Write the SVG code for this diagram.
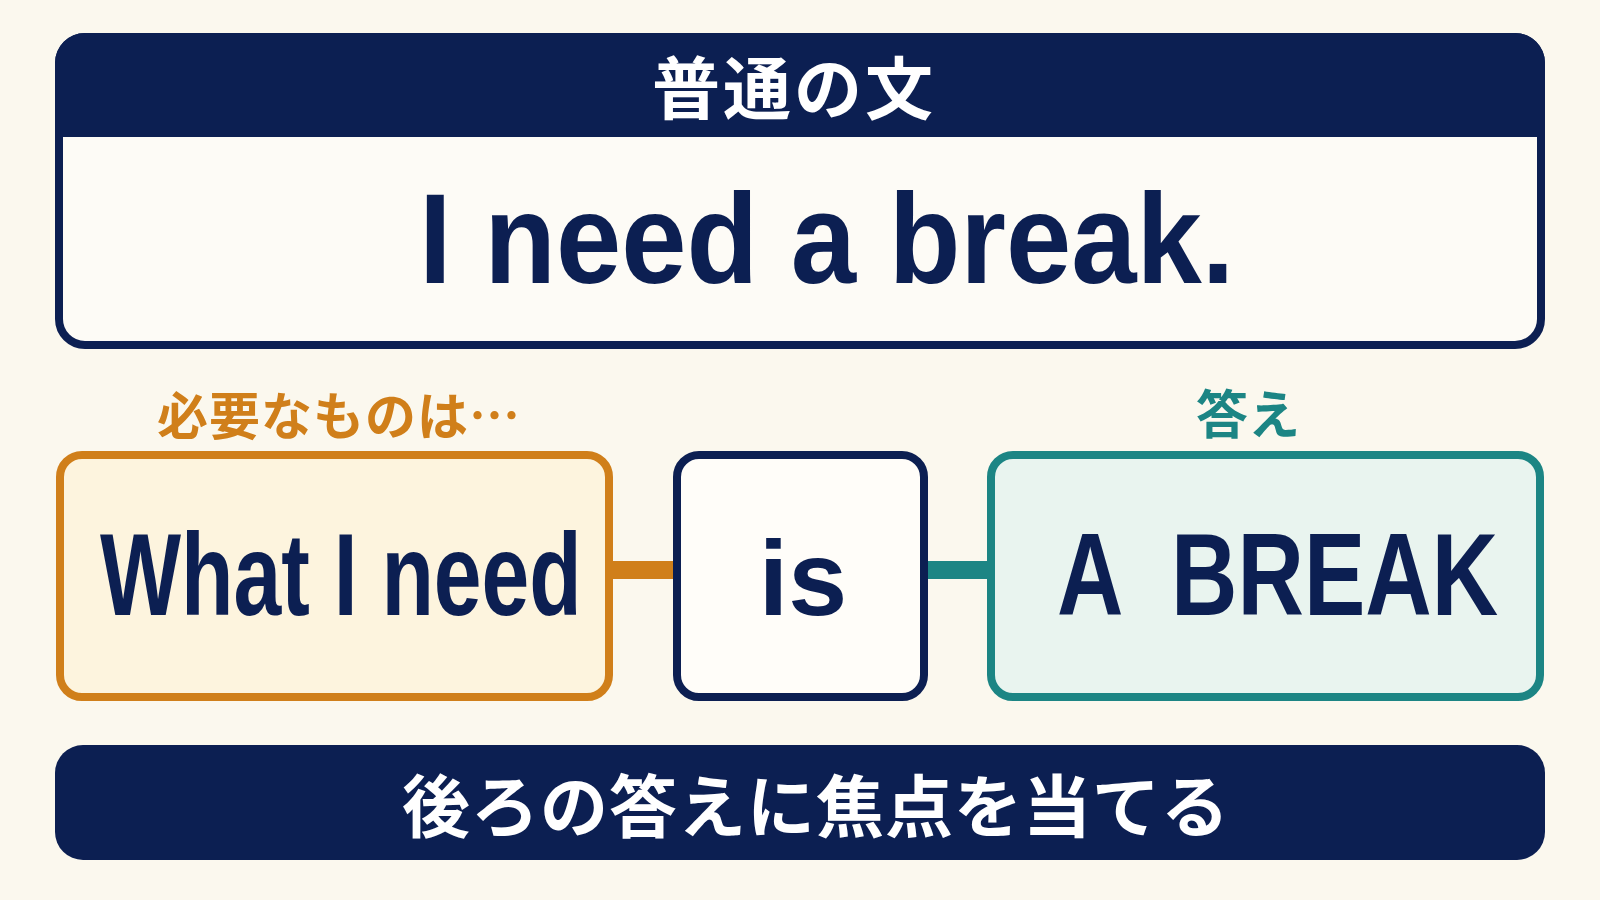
<svg xmlns="http://www.w3.org/2000/svg" width="1600" height="900" viewBox="0 0 1600 900">
<style>
.navy{fill:#0c1f52}
.jp{font-family:"Noto Sans CJK JP","Noto Sans",sans-serif;font-weight:700}
.en{font-family:"Liberation Sans",Arial,sans-serif;font-weight:700;fill:#0c1f52}
.box{stroke-width:8}
</style>
<rect x="0" y="0" width="1600" height="900" fill="#fbf8ee"/>
<g id="top-card">
<rect x="59" y="37" width="1482" height="308" rx="26" fill="#fdfbf6" stroke="#0c1f52" stroke-width="8"/>
<path d="M55 137 V63 A30 30 0 0 1 85 33 H1515 A30 30 0 0 1 1545 63 V137 Z" class="navy"/>
<text x="794" y="114" text-anchor="middle" class="jp" font-size="68" fill="#ffffff" letter-spacing="3">普通の文</text>
<text transform="translate(419 283) scale(0.917 1)" x="0" y="0" class="en" font-size="128">I need a break.</text>
</g>
<g id="connectors">
<rect x="610" y="561" width="66" height="18" fill="#d07f1a"/>
<rect x="925" y="561" width="66" height="18" fill="#1c8584"/>
</g>
<g id="what-i-need">
<text x="339" y="435" text-anchor="middle" class="jp" font-size="51" fill="#d07f1a" letter-spacing="1">必要なものは…</text>
<rect x="60" y="455" width="549" height="242" rx="22" fill="#fdf4de" stroke="#d07f1a" class="box"/>
<text transform="translate(100 615) scale(0.734 1)" x="0" y="0" class="en" font-size="117">What I need</text>
</g>
<g id="is">
<rect x="677" y="455" width="247" height="242" rx="22" fill="#fffdf9" stroke="#0c1f52" class="box"/>
<text x="803" y="615" text-anchor="middle" class="en" font-size="106">is</text>
</g>
<g id="a-break">
<text x="1248" y="434" text-anchor="middle" class="jp" font-size="52" fill="#1c8584">答え</text>
<rect x="991" y="455" width="549" height="242" rx="22" fill="#e9f4ef" stroke="#1c8584" class="box"/>
<text transform="translate(1057 615) scale(0.786 1)" x="0" y="0" class="en" font-size="117" xml:space="preserve" style="white-space:pre">A  BREAK</text>
</g>
<g id="bottom-banner">
<rect x="55" y="745" width="1490" height="115" rx="28" class="navy"/>
<text x="816" y="832" text-anchor="middle" class="jp" font-size="68" fill="#ffffff" letter-spacing="1">後ろの答えに焦点を当てる</text>
</g>
</svg>
